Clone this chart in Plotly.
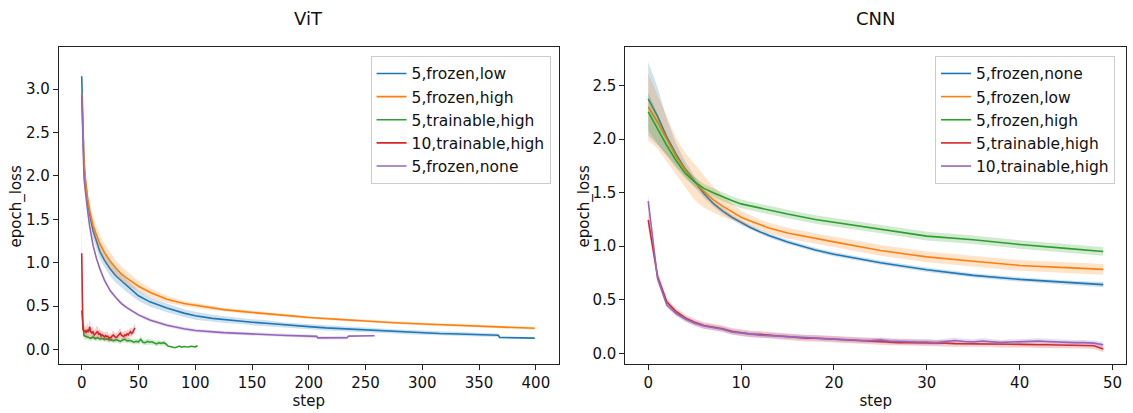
import plotly.graph_objects as go

# ---------------- ViT data ----------------
vit_steps_a = [0, 1, 2, 3, 4, 5, 7, 10, 13, 16, 20, 25, 30, 35, 40, 50, 60, 75, 90, 100,
               115, 125, 140, 150, 165, 177, 192, 200, 215, 230, 250, 265, 275, 290, 300,
               315, 332, 350, 367, 368, 380, 399]
vit_low = [3.15, 2.45, 2.15, 1.96, 1.82, 1.72, 1.56, 1.37, 1.25, 1.13, 1.03, 0.93, 0.85, 0.79,
           0.73, 0.62, 0.55, 0.48, 0.42, 0.39, 0.36, 0.345, 0.33, 0.315, 0.30, 0.285, 0.27,
           0.265, 0.25, 0.24, 0.225, 0.215, 0.21, 0.20, 0.195, 0.185, 0.18, 0.17, 0.165,
           0.14, 0.138, 0.132]
vit_low_sd = [0.17, 0.12, 0.10, 0.10, 0.10, 0.10, 0.09, 0.09, 0.09, 0.09, 0.085, 0.085, 0.08,
              0.075, 0.07, 0.06, 0.055, 0.05, 0.045, 0.045, 0.04, 0.04, 0.035, 0.035, 0.035,
              0.03, 0.03, 0.03, 0.03, 0.03, 0.03, 0.025, 0.025, 0.025, 0.025, 0.025, 0.025,
              0.02, 0.02, 0.0, 0.0, 0.0]

vit_steps_b = [0, 1, 2, 3, 4, 5, 7, 10, 13, 16, 20, 25, 30, 35, 40, 50, 60, 75, 90, 100,
               115, 125, 140, 150, 165, 177, 192, 200, 215, 230, 250, 265, 275, 290, 300,
               315, 332, 350, 367, 380, 390, 399]
vit_high = [2.95, 2.45, 2.18, 2.00, 1.86, 1.76, 1.60, 1.43, 1.32, 1.22, 1.12, 1.02, 0.94, 0.87,
            0.82, 0.73, 0.66, 0.58, 0.53, 0.51, 0.48, 0.46, 0.44, 0.43, 0.41, 0.395, 0.38,
            0.37, 0.355, 0.345, 0.33, 0.315, 0.31, 0.30, 0.295, 0.285, 0.28, 0.27, 0.265,
            0.255, 0.25, 0.245]
vit_high_sd = [0.2, 0.12, 0.11, 0.10, 0.10, 0.10, 0.10, 0.10, 0.10, 0.10, 0.10, 0.10, 0.09,
               0.085, 0.08, 0.06, 0.05, 0.04, 0.03, 0.03, 0.025, 0.02, 0.02, 0.02, 0.015,
               0.015, 0.015, 0.015, 0.015, 0.015, 0.015, 0.015, 0.015, 0.015, 0.015, 0.015,
               0.015, 0.015, 0.015, 0.015, 0.015, 0.015]

vit_train5_steps = list(range(0, 104, 2))
vit_train5 = [0.45, 0.16, 0.15, 0.14, 0.13, 0.145, 0.125, 0.137, 0.12, 0.13, 0.118, 0.125,
              0.11, 0.114, 0.10, 0.115, 0.107, 0.095, 0.11, 0.118, 0.10, 0.105, 0.099, 0.085,
              0.095, 0.09, 0.118, 0.085, 0.079, 0.095, 0.085, 0.09, 0.075, 0.065, 0.08, 0.07,
              0.079, 0.068, 0.04, 0.035, 0.025, 0.021, 0.03, 0.04, 0.028, 0.035, 0.032, 0.03,
              0.038, 0.032, 0.032, 0.045]
vit_train5_sd = [0.0, 0.04, 0.035, 0.03, 0.035, 0.03, 0.03, 0.035, 0.03, 0.03, 0.03, 0.035,
                 0.03, 0.03, 0.03, 0.035, 0.03, 0.03, 0.03, 0.035, 0.03, 0.03, 0.03, 0.03,
                 0.03, 0.03, 0.04, 0.03, 0.03, 0.035, 0.03, 0.03, 0.03, 0.03, 0.03, 0.03,
                 0.03, 0.03, 0.0, 0.0, 0.0, 0.0, 0.0, 0.0, 0.0, 0.0, 0.0, 0.0, 0.0, 0.0, 0.0, 0.0]

vit_train10_steps = list(range(0, 48))
vit_train10 = [1.11, 0.24, 0.21, 0.22, 0.19, 0.23, 0.20, 0.26, 0.205, 0.19, 0.21, 0.167, 0.18,
               0.20, 0.21, 0.17, 0.19, 0.155, 0.17, 0.16, 0.145, 0.16, 0.15, 0.155, 0.13, 0.14,
               0.137, 0.16, 0.167, 0.15, 0.14, 0.145, 0.16, 0.175, 0.19, 0.165, 0.155, 0.15,
               0.17, 0.16, 0.18, 0.17, 0.19, 0.205, 0.185, 0.20, 0.23, 0.25]
vit_train10_sd = [0.52, 0.06, 0.07, 0.06, 0.07, 0.08, 0.06, 0.09, 0.07, 0.06, 0.07, 0.05, 0.06,
                  0.07, 0.06, 0.05, 0.06, 0.05, 0.05, 0.05, 0.05, 0.05, 0.05, 0.05, 0.04, 0.05,
                  0.04, 0.05, 0.05, 0.05, 0.05, 0.05, 0.05, 0.05, 0.06, 0.05, 0.05, 0.05, 0.05,
                  0.05, 0.05, 0.05, 0.05, 0.05, 0.05, 0.05, 0.05, 0.05]

vit_none_steps = [0, 1, 2, 3, 4, 5, 7, 10, 13, 16, 20, 25, 30, 35, 40, 50, 60, 75, 90, 100,
                  125, 150, 175, 200, 207, 208, 220, 234, 235, 258]
vit_none = [2.94, 2.25, 1.98, 1.85, 1.72, 1.62, 1.42, 1.20, 1.05, 0.93, 0.80, 0.68, 0.60, 0.53,
            0.48, 0.40, 0.34, 0.28, 0.24, 0.22, 0.195, 0.176, 0.165, 0.155, 0.152, 0.135,
            0.135, 0.137, 0.155, 0.16]
vit_none_sd = [0.04, 0.03, 0.02, 0.02, 0.02, 0.02, 0.02, 0.02, 0.02, 0.02, 0.02, 0.02, 0.02,
               0.02, 0.02, 0.02, 0.02, 0.02, 0.02, 0.02, 0.02, 0.02, 0.02, 0.02, 0.02, 0.02,
               0.02, 0.02, 0.0, 0.0]

# ---------------- CNN data ----------------
cnn_steps = [0, 1, 2, 3, 4, 5, 6, 7, 8, 9, 10, 11, 12, 13, 15, 18, 20, 25, 30, 35, 40, 45, 49]
cnn_none = [2.376, 2.215, 2.02, 1.86, 1.72, 1.60, 1.49, 1.40, 1.33, 1.27, 1.22, 1.175, 1.135,
            1.10, 1.04, 0.965, 0.925, 0.846, 0.78, 0.728, 0.69, 0.66, 0.641]
cnn_none_sd = [0.345, 0.27, 0.17, 0.10, 0.07, 0.05, 0.04, 0.03, 0.03, 0.025, 0.025, 0.02, 0.02,
               0.02, 0.02, 0.02, 0.02, 0.02, 0.02, 0.02, 0.02, 0.02, 0.025]
cnn_low = [2.30, 2.16, 2.00, 1.84, 1.71, 1.60, 1.51, 1.435, 1.374, 1.318, 1.27, 1.235, 1.20,
           1.17, 1.123, 1.07, 1.04, 0.96, 0.90, 0.86, 0.82, 0.80, 0.784]
cnn_low_sd = [0.31, 0.25, 0.20, 0.17, 0.16, 0.17, 0.15, 0.12, 0.10, 0.08, 0.06, 0.055, 0.05,
              0.05, 0.05, 0.05, 0.05, 0.05, 0.05, 0.05, 0.05, 0.05, 0.05]
cnn_high = [2.255, 2.10, 1.94, 1.80, 1.68, 1.60, 1.54, 1.50, 1.46, 1.426, 1.395, 1.375, 1.355,
            1.335, 1.30, 1.25, 1.225, 1.16, 1.094, 1.06, 1.016, 0.98, 0.951]
cnn_high_sd = [0.18, 0.14, 0.10, 0.07, 0.05, 0.045, 0.04, 0.04, 0.04, 0.04, 0.04, 0.04, 0.04,
               0.04, 0.04, 0.04, 0.04, 0.04, 0.04, 0.04, 0.04, 0.04, 0.04]

cnn_train_steps = list(range(0, 50))
cnn_train5 = [1.245, 0.72, 0.48, 0.39, 0.33, 0.29, 0.26, 0.245, 0.23, 0.205, 0.19, 0.18, 0.178,
              0.17, 0.16, 0.15, 0.145, 0.14, 0.14, 0.135, 0.13, 0.125, 0.12, 0.115, 0.115,
              0.11, 0.105, 0.10, 0.10, 0.10, 0.098, 0.095, 0.095, 0.09, 0.09, 0.088, 0.092,
              0.09, 0.085, 0.085, 0.083, 0.085, 0.08, 0.08, 0.078, 0.078, 0.075, 0.075, 0.07,
              0.04]
cnn_train10 = [1.42, 0.70, 0.45, 0.37, 0.32, 0.28, 0.255, 0.24, 0.225, 0.20, 0.19, 0.175, 0.17,
               0.165, 0.16, 0.155, 0.15, 0.145, 0.14, 0.14, 0.135, 0.13, 0.125, 0.12, 0.12,
               0.125, 0.115, 0.11, 0.11, 0.105, 0.105, 0.10, 0.11, 0.12, 0.11, 0.105, 0.115,
               0.11, 0.10, 0.105, 0.11, 0.112, 0.115, 0.11, 0.105, 0.10, 0.10, 0.10, 0.095, 0.08]
cnn_train5_sd = [0.08, 0.05] + [0.03] * 48
cnn_train10_sd = [0.07, 0.04] + [0.025] * 48

BLUE, ORANGE, GREEN, RED, PURPLE = "#1f77b4", "#ff7f0e", "#2ca02c", "#d62728", "#9467bd"
FILL = {BLUE: "rgba(31,119,180,0.22)", ORANGE: "rgba(255,127,14,0.22)",
        GREEN: "rgba(44,160,44,0.22)", RED: "rgba(214,39,40,0.22)",
        PURPLE: "rgba(148,103,189,0.22)"}

fig = go.Figure()


def add_series(steps, vals, sd, color, name, xa, ya, legend):
    hi = [v + s for v, s in zip(vals, sd)]
    lo = [v - s for v, s in zip(vals, sd)]
    fig.add_trace(go.Scatter(x=list(steps) + list(steps)[::-1], y=hi + lo[::-1],
                             fill="toself", fillcolor=FILL[color], line=dict(width=0),
                             mode="lines", showlegend=False, hoverinfo="skip",
                             xaxis=xa, yaxis=ya))
    fig.add_trace(go.Scatter(x=steps, y=vals, mode="lines", name=name,
                             line=dict(color=color, width=1.6),
                             xaxis=xa, yaxis=ya, legend=legend))


add_series(vit_steps_a, vit_low, vit_low_sd, BLUE, "5,frozen,low", "x", "y", "legend")
add_series(vit_steps_b, vit_high, vit_high_sd, ORANGE, "5,frozen,high", "x", "y", "legend")
add_series(vit_train5_steps, vit_train5, vit_train5_sd, GREEN, "5,trainable,high", "x", "y", "legend")
add_series(vit_train10_steps, vit_train10, vit_train10_sd, RED, "10,trainable,high", "x", "y", "legend")
add_series(vit_none_steps, vit_none, vit_none_sd, PURPLE, "5,frozen,none", "x", "y", "legend")

add_series(cnn_steps, cnn_none, cnn_none_sd, BLUE, "5,frozen,none", "x2", "y2", "legend2")
add_series(cnn_steps, cnn_low, cnn_low_sd, ORANGE, "5,frozen,low", "x2", "y2", "legend2")
add_series(cnn_steps, cnn_high, cnn_high_sd, GREEN, "5,frozen,high", "x2", "y2", "legend2")
add_series(cnn_train_steps, cnn_train5, cnn_train5_sd, RED, "5,trainable,high", "x2", "y2", "legend2")
add_series(cnn_train_steps, cnn_train10, cnn_train10_sd, PURPLE, "10,trainable,high", "x2", "y2", "legend2")

FONT = "DejaVu Sans"
axis_common = dict(showline=True, mirror=True, linecolor="#222", linewidth=1.2,
                   ticks="outside", ticklen=5, tickcolor="#222", showgrid=False,
                   zeroline=False, tickfont=dict(size=15, color="#111"))

legend_common = dict(bgcolor="rgba(255,255,255,0.85)", bordercolor="#cccccc", borderwidth=1,
                     font=dict(size=15.5, color="#111"), xanchor="right", yanchor="top",
                     itemwidth=30, tracegroupgap=0)

fig.update_layout(
    width=1133, height=413,
    margin=dict(l=59, r=6, t=47, b=46),
    paper_bgcolor="white", plot_bgcolor="white",
    font=dict(family=FONT, color="#111"),
    xaxis=dict(domain=[0, 0.4682], range=[-20, 420], tickvals=[0, 50, 100, 150, 200, 250, 300, 350, 400],
               title=dict(text="step", font=dict(size=15), standoff=4), anchor="y", **axis_common),
    yaxis=dict(domain=[0, 1], range=[-0.166, 3.486], tickvals=[0, 0.5, 1, 1.5, 2, 2.5, 3],
               tickformat=".1f", anchor="x", **axis_common),
    xaxis2=dict(domain=[0.5309, 1.0], range=[-2.45, 51.45], tickvals=[0, 10, 20, 30, 40, 50],
                title=dict(text="step", font=dict(size=15), standoff=4), anchor="y2", **axis_common),
    yaxis2=dict(domain=[0, 1], range=[-0.1, 2.86], tickvals=[0, 0.5, 1, 1.5, 2, 2.5],
                tickformat=".1f", anchor="x2", **axis_common),
    legend=dict(x=0.4607, y=0.972, **legend_common),
    legend2=dict(x=0.9897, y=0.972, **legend_common),
    annotations=[
        dict(text="ViT", x=0.2341, y=1.0906, xref="paper", yref="paper", showarrow=False,
             xanchor="center", yanchor="middle", font=dict(size=18, color="#111")),
        dict(text="CNN", x=0.7655, y=1.0906, xref="paper", yref="paper", showarrow=False,
             xanchor="center", yanchor="middle", font=dict(size=18, color="#111")),
        dict(text="epoch_loss", x=-0.0403, y=0.497, xref="paper", yref="paper", showarrow=False,
             textangle=-90, xanchor="center", yanchor="middle", font=dict(size=15, color="#111")),
        dict(text="epoch_loss", x=0.4920, y=0.497, xref="paper", yref="paper", showarrow=False,
             textangle=-90, xanchor="center", yanchor="middle", font=dict(size=15, color="#111")),
    ],
)

fig.write_html("out.html", config={"displayModeBar": False},
               post_script="document.body.style.margin='0';")
